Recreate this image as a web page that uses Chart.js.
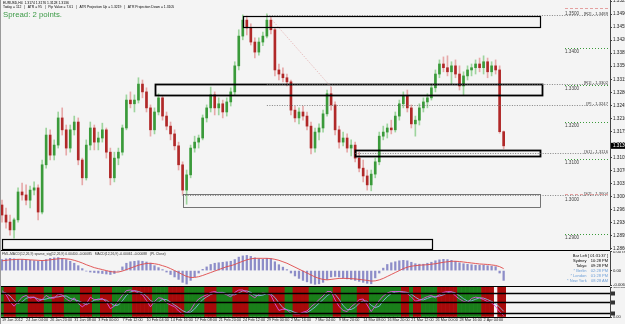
<!DOCTYPE html>
<html><head><meta charset="utf-8">
<script src="https://cdn.jsdelivr.net/npm/chart.js@4.4.1/dist/chart.umd.min.js"></script>
<style>
html,body{margin:0;padding:0;background:#f4f4f4;}
body{width:625px;height:324px;overflow:hidden;position:relative;}
canvas{position:absolute;left:0;}
.t{position:absolute;white-space:pre;font-family:"Liberation Sans",Arial,sans-serif;line-height:1;}
.sep{position:absolute;left:0;width:610px;height:1px;background:#000;}
</style></head><body>
<canvas id="main" width="625" height="250" style="top:0px"></canvas>
<div class="sep" style="top:250px"></div>
<canvas id="macd" width="625" height="35" style="top:251px"></canvas>
<div class="sep" style="top:286px"></div>
<canvas id="osc" width="625" height="37" style="top:287px"></canvas>
<div style="position:absolute;left:0;top:0;width:1px;height:324px;background:#9a9a9a"></div>
<div class="t" style="left:3px;top:2px;font-size:3.4px;color:#000">EURUSD,H4  1.3174 1.3176 1.3128 1.3136</div>
<div class="t" style="left:3px;top:6px;font-size:3.4px;color:#000">Today = 112   |   ATR = 95   |   Pip Value = 7.61   |   ATR Projection Up = 1.3219   |   ATR Projection Down = 1.3105</div>
<div class="t" style="left:3px;top:11px;font-size:7.8px;color:#3c9a46">Spread: 2 points.</div>
<div class="t" style="left:2px;top:253px;font-size:3.4px;color:#333">FML-MACD(12,26,9) sparse_sig(12,26,9) 0.00400 -0.00085   MACD(12,26,9) -0.00061 -0.00088   (PL Close)</div>
<div class="t" style="right:17px;top:253px;font-size:4px;line-height:5px;text-align:right;color:#000">Bar Left [ 01:31:37 ]<br>Sydney    10:28 PM<br>Tokyo    09:28 PM<br><span style="color:#6fa0d8">* Berlin    02:28 PM</span><br><span style="color:#6fa0d8">* London    01:28 PM</span><br><span style="color:#6fa0d8">* New York    08:28 AM</span></div>
<script>
// ---------- DATA ----------
const timeLabels = ['19 Jan 2012','24 Jan 04:00','26 Jan 20:00','31 Jan 08:00','3 Feb 00:00','7 Feb 12:00','10 Feb 04:00','14 Feb 16:00','17 Feb 08:00','21 Feb 20:00','24 Feb 12:00','29 Feb 00:00','2 Mar 16:00','7 Mar 04:00','9 Mar 20:00','14 Mar 08:00','16 Mar 20:00','21 Mar 12:00','26 Mar 00:00','28 Mar 16:00','2 Apr 04:00'];
const opens = [1.2977,1.2950,1.2931,1.2910,1.2937,1.3012,1.3004,1.2990,1.3017,1.3023,1.2958,1.3085,1.3165,1.3111,1.3138,1.3211,1.3179,1.3130,1.3179,1.3200,
1.3098,1.3050,1.3138,1.3184,1.3146,1.3157,1.3179,1.3119,1.3050,1.3103,1.3119,1.3184,1.3259,1.3249,1.3259,1.3302,1.3281,1.3238,1.3179,1.3227,
1.3265,1.3216,1.3189,1.3168,1.3136,1.3085,1.3017,1.3058,1.3130,1.3146,1.3157,1.3211,1.3238,1.3273,1.3238,1.3249,1.3227,1.3254,1.3281,1.3351,
1.3431,1.3474,1.3453,1.3415,1.3388,1.3415,1.3431,1.3474,1.3448,1.3340,1.3329,1.3319,1.3308,1.3232,1.3211,1.3227,1.3216,1.3189,1.3130,1.3173,
1.3184,1.3222,1.3276,1.3246,1.3179,1.3146,1.3157,1.3130,1.3138,1.3103,1.3076,1.3055,1.3031,1.3060,1.3093,1.3162,1.3173,1.3184,1.3179,1.3216,
1.3249,1.3270,1.3238,1.3195,1.3205,1.3238,1.3254,1.3265,1.3292,1.3329,1.3356,1.3346,1.3335,1.3351,1.3329,1.3297,1.3324,1.3340,1.3346,1.3356,
1.3346,1.3362,1.3335,1.3351,1.3340,1.3174];
const highs = [1.2990,1.2969,1.2950,1.2942,1.3023,1.3036,1.3031,1.3028,1.3039,1.3031,1.3098,1.3184,1.3179,1.3152,1.3227,1.3238,1.3192,1.3192,1.3216,1.3211,
1.3103,1.3152,1.3200,1.3192,1.3173,1.3197,1.3184,1.3130,1.3119,1.3130,1.3192,1.3273,1.3281,1.3273,1.3319,1.3313,1.3292,1.3246,1.3238,1.3276,
1.3270,1.3227,1.3200,1.3179,1.3146,1.3093,1.3071,1.3138,1.3162,1.3165,1.3219,1.3246,1.3294,1.3281,1.3265,1.3259,1.3265,1.3292,1.3362,1.3448,
1.3488,1.3485,1.3464,1.3426,1.3426,1.3442,1.3491,1.3483,1.3453,1.3356,1.3346,1.3329,1.3313,1.3243,1.3238,1.3243,1.3227,1.3200,1.3184,1.3195,
1.3232,1.3286,1.3294,1.3254,1.3189,1.3173,1.3168,1.3152,1.3146,1.3119,1.3098,1.3071,1.3071,1.3103,1.3173,1.3189,1.3195,1.3205,1.3227,1.3259,
1.3281,1.3286,1.3246,1.3216,1.3249,1.3265,1.3276,1.3302,1.3340,1.3367,1.3375,1.3378,1.3362,1.3367,1.3351,1.3335,1.3351,1.3356,1.3367,1.3372,
1.3378,1.3372,1.3362,1.3367,1.3351,1.3176];
const lows = [1.2931,1.2915,1.2896,1.2888,1.2931,1.2990,1.2977,1.2969,1.3004,1.2937,1.2953,1.3076,1.3098,1.3098,1.3130,1.3165,1.3111,1.3119,1.3165,1.3085,
1.3031,1.3044,1.3125,1.3125,1.3125,1.3146,1.3103,1.3031,1.3039,1.3085,1.3111,1.3179,1.3238,1.3227,1.3251,1.3265,1.3227,1.3162,1.3168,1.3219,
1.3205,1.3179,1.3152,1.3125,1.3071,1.3004,1.2979,1.3050,1.3119,1.3130,1.3152,1.3200,1.3227,1.3219,1.3219,1.3211,1.3216,1.3243,1.3273,1.3340,
1.3421,1.3434,1.3407,1.3372,1.3380,1.3405,1.3426,1.3437,1.3324,1.3313,1.3308,1.3297,1.3219,1.3200,1.3195,1.3205,1.3179,1.3114,1.3119,1.3152,
1.3173,1.3216,1.3232,1.3165,1.3130,1.3136,1.3119,1.3109,1.3093,1.3066,1.3039,1.3017,1.3015,1.3050,1.3085,1.3152,1.3157,1.3168,1.3173,1.3205,
1.3238,1.3227,1.3184,1.3162,1.3192,1.3227,1.3238,1.3259,1.3281,1.3319,1.3335,1.3324,1.3302,1.3319,1.3286,1.3273,1.3313,1.3324,1.3329,1.3335,
1.3329,1.3319,1.3324,1.3329,1.3170,1.3128];
const closes = [1.2950,1.2931,1.2910,1.2937,1.3012,1.3004,1.2990,1.3017,1.3023,1.2958,1.3085,1.3165,1.3111,1.3138,1.3211,1.3179,1.3130,1.3179,1.3200,1.3098,
1.3050,1.3138,1.3184,1.3146,1.3157,1.3179,1.3119,1.3050,1.3103,1.3119,1.3184,1.3259,1.3249,1.3259,1.3302,1.3281,1.3238,1.3179,1.3227,1.3265,
1.3216,1.3189,1.3168,1.3136,1.3085,1.3017,1.3058,1.3130,1.3146,1.3157,1.3211,1.3238,1.3273,1.3238,1.3249,1.3227,1.3254,1.3281,1.3351,1.3431,
1.3474,1.3453,1.3415,1.3388,1.3415,1.3431,1.3474,1.3448,1.3340,1.3329,1.3319,1.3308,1.3232,1.3211,1.3227,1.3216,1.3189,1.3130,1.3173,1.3184,
1.3222,1.3276,1.3246,1.3179,1.3146,1.3157,1.3130,1.3138,1.3103,1.3076,1.3055,1.3031,1.3060,1.3093,1.3162,1.3173,1.3184,1.3179,1.3216,1.3249,
1.3270,1.3238,1.3195,1.3205,1.3238,1.3254,1.3265,1.3292,1.3329,1.3356,1.3346,1.3335,1.3351,1.3329,1.3297,1.3324,1.3340,1.3346,1.3356,1.3346,
1.3362,1.3335,1.3351,1.3340,1.3174,1.3136];
const currentPrice = 1.3136;
const priceTicks = [1.3525,1.3490,1.3455,1.3420,1.3385,1.3350,1.3315,1.3280,1.3245,1.3210,1.3175,1.3140,1.3105,1.3070,1.3035,1.3000,1.2965,1.2930,1.2895,1.2860];
// supply / demand zones (bar index start/end, price top/bottom)
const zoneStart = [60,38,88,45,0];
const zoneEnd = [134,134.6,134,134,107.2];
const zoneTop = [1.3485,1.3302,1.3125,1.3007,1.2885];
const zoneBottom = [1.3456,1.3273,1.3109,1.2971,1.2858];
// round-number levels
const roundLevels = [1.3500,1.3400,1.3300,1.3200,1.3100,1.3000,1.2900];
// pivot levels
const pivotNames = ['[R2]','[R1]','[P]','[S1]','[S2]'];
const pivotPrices = [1.3489,1.3302,1.3247,1.3116,1.3004];
const pivotStart = [66,66,66,88,45];
// trend line (bar index, price)
const trendBars = [67,82];
const trendPrices = [1.3478,1.3294];
// MACD
const macdTicks = [0.00785,0,-0.0060];
const macdHist = [0.0045,0.0048,0.0050,0.0048,0.0046,0.0045,0.0044,0.0042,0.0040,0.0038,0.0040,0.0045,0.0050,0.0052,0.0053,0.0050,0.0045,0.0038,0.0030,0.0020,
0.0008,-0.0002,-0.0006,-0.0008,-0.0010,-0.0012,-0.0014,-0.0016,-0.0012,-0.0002,0.0015,0.0030,0.0036,0.0038,0.0040,0.0038,0.0035,0.0030,0.0020,0.0012,
0.0004,-0.0006,-0.0016,-0.0026,-0.0036,-0.0048,-0.0055,-0.0040,-0.0025,-0.0010,0.0005,0.0015,0.0025,0.0030,0.0032,0.0034,0.0036,0.0038,0.0045,0.0055,
0.0060,0.0062,0.0058,0.0052,0.0048,0.0046,0.0050,0.0048,0.0036,0.0024,0.0014,0.0004,-0.0010,-0.0022,-0.0032,-0.0040,-0.0046,-0.0052,-0.0056,-0.0054,
-0.0048,-0.0036,-0.0026,-0.0024,-0.0026,-0.0030,-0.0034,-0.0036,-0.0040,-0.0044,-0.0048,-0.0052,-0.0054,-0.0030,-0.0010,0.0010,0.0025,0.0032,0.0036,0.0040,
0.0042,0.0040,0.0034,0.0028,0.0026,0.0026,0.0030,0.0034,0.0040,0.0044,0.0046,0.0045,0.0042,0.0038,0.0032,0.0028,0.0026,0.0024,0.0022,0.0022,
0.0022,0.0020,0.0018,0.0016,-0.0010,-0.0040];
const macdSignal = [0.0040,0.0042,0.0044,0.0045,0.0046,0.0046,0.0045,0.0044,0.0043,0.0042,0.0041,0.0042,0.0044,0.0046,0.0048,0.0049,0.0048,0.0046,0.0042,0.0037,
0.0031,0.0024,0.0018,0.0012,0.0008,0.0004,0.0000,-0.0004,-0.0006,-0.0006,-0.0002,0.0004,0.0010,0.0016,0.0022,0.0026,0.0029,0.0030,0.0028,0.0025,
0.0020,0.0015,0.0008,0.0000,-0.0008,-0.0016,-0.0024,-0.0028,-0.0028,-0.0025,-0.0020,-0.0014,-0.0008,-0.0002,0.0004,0.0010,0.0016,0.0020,0.0025,0.0032,
0.0038,0.0044,0.0048,0.0050,0.0050,0.0050,0.0050,0.0049,0.0046,0.0042,0.0036,0.0030,0.0022,0.0014,0.0006,-0.0002,-0.0010,-0.0018,-0.0026,-0.0032,
-0.0036,-0.0038,-0.0036,-0.0034,-0.0032,-0.0032,-0.0032,-0.0033,-0.0034,-0.0036,-0.0038,-0.0040,-0.0043,-0.0042,-0.0038,-0.0032,-0.0024,-0.0016,-0.0008,0.0000,
0.0008,0.0014,0.0018,0.0020,0.0022,0.0023,0.0024,0.0026,0.0028,0.0031,0.0034,0.0036,0.0038,0.0038,0.0037,0.0035,0.0033,0.0031,0.0029,0.0027,
0.0026,0.0025,0.0023,0.0021,0.0016,0.0008];
// oscillator panel
const oscMain = [88,75,51,36,50,66,72,63,66,52,58,72,63,63,76,74,60,52,64,45,
34,44,66,58,57,62,50,28,36,55,72,88,90,86,80,74,55,34,52,64,
62,47,40,34,20,10,14,23,45,60,68,74,82,85,80,80,74,67,82,90,
90,82,73,64,76,80,78,73,45,22,26,24,12,10,10,16,20,34,45,58,
70,85,85,57,35,22,18,34,45,58,60,40,18,36,55,70,80,85,85,85,
82,78,67,53,55,62,68,72,64,75,82,85,84,70,60,52,48,62,66,64,
58,51,47,35,18,5];
const oscSignal = [80,80,70,55,45,50,62,66,66,60,58,60,64,66,67,70,70,62,58,54,
48,41,48,56,60,59,56,47,38,40,54,72,83,88,85,80,70,55,47,50,
59,58,50,40,31,21,15,16,27,43,58,67,75,80,82,82,78,74,74,80,
87,87,82,73,71,73,78,77,65,47,31,24,21,15,11,12,15,23,33,46,
58,71,80,76,59,38,25,25,32,46,54,53,39,31,36,54,68,78,83,85,
84,82,76,66,58,57,62,67,68,70,74,81,84,80,71,61,53,54,59,64,
63,58,52,44,33,19];
// 1 = green phase, 0 = red phase, -1 = none
const trendState = [1,0,0,0,1,1,1,0,0,0,0,1,1,0,0,0,1,1,1,1,
0,0,0,1,1,0,0,0,1,1,1,1,1,0,0,0,0,0,1,1,
1,1,0,0,0,0,1,1,1,1,1,0,0,0,1,1,1,1,0,0,
0,0,1,1,1,1,1,0,0,0,0,1,1,0,0,0,0,1,1,1,
1,1,1,0,0,1,1,1,1,0,0,0,1,1,1,1,1,1,1,1,
0,0,1,0,0,1,1,1,1,0,0,0,0,0,1,1,1,1,1,1,
0,0,0,-1,0,0];
const oscLevels = [80,50,15];

// ---------- BUILD ----------
const N = 152;
const xLabels = Array.from({length:N},(_,i)=> (i%6===0 && i/6<timeLabels.length) ? timeLabels[i/6] : '');
Chart.defaults.font.family = '"Liberation Sans", Arial, sans-serif';
const BG = '#f4f4f4';
const bgPlugin = {id:'bg', beforeDraw(c){const g=c.ctx;g.save();g.fillStyle=BG;g.fillRect(0,0,c.width,c.height);g.restore();}};
function yAxis(extra){
  return Object.assign({position:'right',
    afterFit(s){s.width=15;s.paddingTop=0;s.paddingBottom=0;},
    ticks:{font:{size:4.6},color:'#222',padding:1},
    grid:{drawOnChartArea:false,tickLength:2,color:'#444'},
    border:{color:'#444'}}, extra);
}
const baseOpts = {responsive:false,animation:false,events:[],layout:{padding:0},
  plugins:{legend:{display:false},tooltip:{enabled:false}}};

const up = closes.map((c,i)=>c>=opens[i]);
const overlay = {id:'overlay', afterDatasetsDraw(c){
  const g=c.ctx, x=c.scales.x, y=c.scales.y, a=c.chartArea;
  g.save();
  // zones
  const zw=[1.2,1.8,1.8,0.8,1.2], zc=['#000','#000','#000','#555','#000'];
  zoneTop.forEach((t,k)=>{
    const x1=Math.round(x.getPixelForValue(zoneStart[k]))+0.5, x2=Math.round(x.getPixelForValue(zoneEnd[k]))+0.5;
    const y1=Math.round(y.getPixelForValue(t))+0.5, y2=Math.round(y.getPixelForValue(zoneBottom[k]))+0.5;
    g.lineWidth=zw[k]; g.strokeStyle=zc[k]; g.strokeRect(x1,y1,x2-x1,y2-y1);
  });
  // pivot lines
  g.font='4.2px "Liberation Sans", Arial';
  pivotPrices.forEach((p,k)=>{
    const yy=Math.round(y.getPixelForValue(p))+0.5;
    g.strokeStyle='#666'; g.lineWidth=0.8; g.setLineDash([1,1.5]);
    g.beginPath(); g.moveTo(x.getPixelForValue(pivotStart[k]),yy); g.lineTo(608,yy); g.stroke();
    g.setLineDash([]); g.fillStyle='#444'; g.textAlign='right'; g.textBaseline='bottom';
    g.fillText(pivotNames[k]+' - '+p.toFixed(4),608,yy);
  });
  // round levels
  roundLevels.forEach(p=>{
    const yy=Math.round(y.getPixelForValue(p))+0.5;
    const major = Math.abs(p*100-Math.round(p*20)*5)<1e-6;
    g.strokeStyle= major?'#e4a0a0':'#3a9a3a'; g.lineWidth=1; g.setLineDash(major?[3,2]:[1,2]);
    g.beginPath(); g.moveTo(565,major?yy-2:yy); g.lineTo(608,major?yy-2:yy); g.stroke(); g.setLineDash([]);
    g.fillStyle='#444'; g.textAlign='left'; g.textBaseline='top'; g.font='4.6px "Liberation Sans", Arial';
    g.fillText(p.toFixed(4),565,yy+1);
  });
  // trend line
  g.strokeStyle='#e0a0a0'; g.lineWidth=0.8; g.setLineDash([1,1.5]);
  g.beginPath(); g.moveTo(x.getPixelForValue(trendBars[0]),y.getPixelForValue(trendPrices[0]));
  g.lineTo(x.getPixelForValue(trendBars[1]),y.getPixelForValue(trendPrices[1])); g.stroke(); g.setLineDash([]);
  // current price box
  const cy=y.getPixelForValue(currentPrice);
  g.fillStyle='#000'; g.fillRect(a.right+1,cy-3,14,6);
  g.fillStyle='#fff'; g.textAlign='left'; g.textBaseline='middle'; g.font='4.6px "Liberation Sans", Arial';
  g.fillText(currentPrice.toFixed(4),a.right+3,cy);
  g.restore();
}};

new Chart(document.getElementById('main'),{type:'bar',
  data:{labels:xLabels,datasets:[
    {data:lows.map((l,i)=>[l,highs[i]]),backgroundColor:up.map(u=>u?'#9dd49d':'#e6a9a9'),barThickness:1,grouped:false,order:2},
    {data:opens.map((o,i)=>[o,closes[i]]),backgroundColor:up.map(u=>u?'#3a9a3a':'#b02828'),barThickness:2,grouped:false,order:1}
  ]},
  options:Object.assign({},baseOpts,{scales:{
    x:{display:false,offset:true},
    y:yAxis({min:1.2856,max:1.3528,afterBuildTicks(s){s.ticks=priceTicks.map(v=>({value:v}));},ticks:{font:{size:4.6},color:'#222',padding:1,callback:v=>v.toFixed(4)}})
  }}),
  plugins:[bgPlugin,overlay]});

const macdTickText = ['0.00785','0.00','-0.0060'];
new Chart(document.getElementById('macd'),{type:'bar',
  data:{labels:xLabels,datasets:[
    {type:'line',data:macdSignal,borderColor:'#e04848',borderWidth:0.9,pointRadius:0,order:1},
    {data:macdHist,backgroundColor:'#8d8dc8',barThickness:1.6,order:2}
  ]},
  options:Object.assign({},baseOpts,{scales:{
    x:{display:false,offset:true},
    y:yAxis({min:-0.0063,max:0.0080,afterBuildTicks(s){s.ticks=macdTicks.map(v=>({value:v}));},ticks:{font:{size:4.2},color:'#222',padding:1,callback:(v,i)=>macdTickText[i]}})
  }}),
  plugins:[bgPlugin]});

const oscOverlay = {id:'oscov', afterDatasetsDraw(c){
  const g=c.ctx,y=c.scales.y,a=c.chartArea; g.save();
  g.strokeStyle='#000'; g.lineWidth=1.3;
  oscLevels.forEach(v=>{const yy=Math.round(y.getPixelForValue(v))+0.5; g.beginPath(); g.moveTo(a.left,yy); g.lineTo(a.right,yy); g.stroke();
    g.fillStyle='#333'; g.fillRect(a.right+1,yy-2,4,4);});
  g.lineWidth=1; g.beginPath(); g.moveTo(a.left,a.bottom+0.5); g.lineTo(a.right,a.bottom+0.5); g.stroke();
  g.restore();
}};
new Chart(document.getElementById('osc'),{type:'bar',
  data:{labels:xLabels,datasets:[
    {type:'line',data:oscMain,borderColor:'#e050e0',borderWidth:0.9,pointRadius:0,order:1},
    {type:'line',data:oscSignal,borderColor:'#8ab4e8',borderWidth:0.9,pointRadius:0,order:2},
    {data:trendState.map(s=>s<0?null:[0,100]),backgroundColor:trendState.map(s=>s===1?'#1a7f1a':'#a80a0a'),barPercentage:1,categoryPercentage:1,order:3}
  ]},
  options:Object.assign({},baseOpts,{scales:{
    x:{offset:true,afterFit(s){s.height=7;},grid:{display:false,drawTicks:false},border:{display:false},
       ticks:{autoSkip:false,maxRotation:0,align:'start',font:{size:3.8},color:'#222',padding:1}},
    y:yAxis({min:0,max:100,afterBuildTicks(s){s.ticks=[{value:100},{value:0}];},ticks:{font:{size:4},color:'#222',padding:1,callback:v=>v.toFixed(2)}})
  }}),
  plugins:[bgPlugin,oscOverlay]});
</script>
</body></html>
